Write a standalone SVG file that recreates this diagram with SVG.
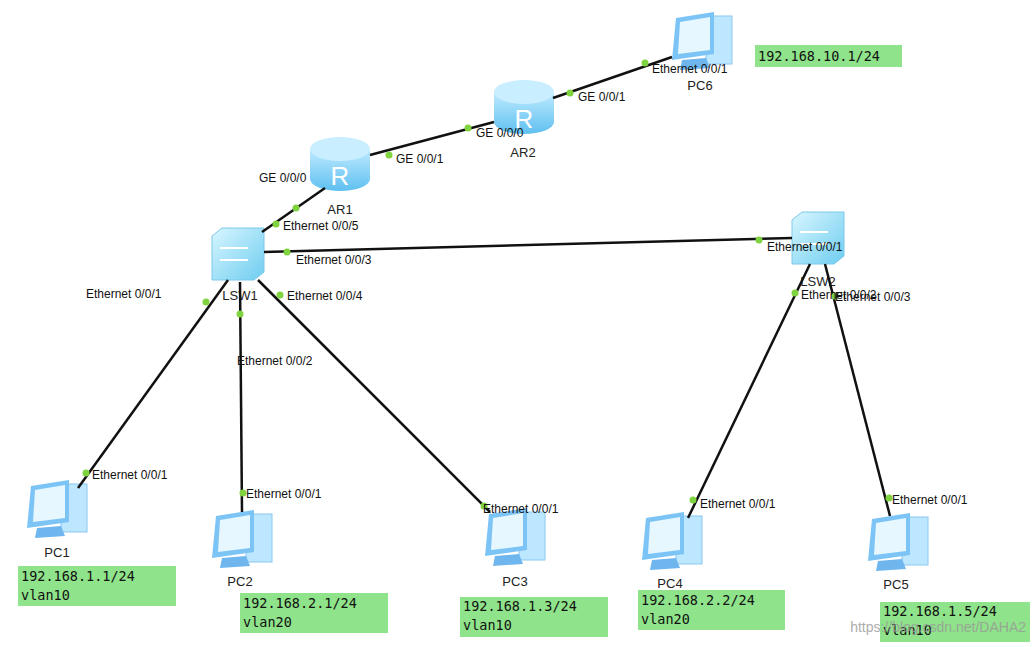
<svg xmlns="http://www.w3.org/2000/svg" width="1034" height="647" viewBox="0 0 1034 647">
<defs>
<style>
.l{stroke:#111;stroke-width:2.5;fill:none}
.d{fill:#7ed33f}
.t{font-family:"Liberation Sans",Arial,sans-serif;font-size:12px;fill:#111}
.n{font-family:"Liberation Sans",Arial,sans-serif;font-size:13px;fill:#222;text-anchor:middle}
.box{fill:#8fe38a}
.m{font-family:"DejaVu Sans Mono","Liberation Mono",monospace;font-size:13.5px;fill:#111}
</style>
<linearGradient id="rg" x1="0" y1="0" x2="0" y2="1"><stop offset="0" stop-color="#bfeaff"/><stop offset="1" stop-color="#5fc0f0"/></linearGradient>
<linearGradient id="sg" x1="0" y1="0" x2="1" y2="1"><stop offset="0" stop-color="#d8f6ff"/><stop offset="1" stop-color="#6fcdf0"/></linearGradient>
<g id="pc">
<rect x="36" y="4" width="26" height="48" fill="#bde6ff" stroke="#8cc8f0"/>
<path d="M6 6 L44 0 L44 42 L2 48 Z" fill="#7cc4f5"/>
<path d="M10 10 L40 5 L40 38 L8 42 Z" fill="#e6f7ff"/>
<path d="M12 48 L36 46 L40 56 L10 58 Z" fill="#6fb6ee"/>
</g>
<g id="rt">
<path d="M0 12 L0 42 A30 12 0 0 0 60 42 L60 12 Z" fill="url(#rg)"/>
<ellipse cx="30" cy="12" rx="30" ry="12" fill="#c8eeff"/>
<text x="30" y="48" font-family="Liberation Sans,sans-serif" font-size="26" fill="#fff" text-anchor="middle">R</text>
</g>
<g id="sw">
<path d="M0 8 L10 0 L52 0 L52 44 L42 52 L0 52 Z" fill="url(#sg)" stroke="#7cc8ea"/>
<path d="M8 20 L36 20 M8 32 L36 32" stroke="#fff" stroke-width="2"/>
</g>
</defs>
<rect width="1034" height="647" fill="#fff"/>
<g id="AR1"><use href="#rt" x="310" y="137"/><text class="n" x="340" y="214">AR1</text></g>
<g id="AR2"><use href="#rt" x="494" y="80"/><text class="n" x="523" y="157">AR2</text></g>
<g id="LSW1"><use href="#sw" x="212" y="228"/><text class="n" x="240" y="300">LSW1</text></g>
<g id="LSW2"><use href="#sw" x="792" y="212"/><text class="n" x="818" y="286">LSW2</text></g>
<g id="PC6"><use href="#pc" x="670" y="12"/><text class="n" x="700" y="90">PC6</text>
<rect class="box" x="755" y="45" width="147" height="22"/><text class="m" x="758" y="61">192.168.10.1/24</text></g>
<g id="PC1"><use href="#pc" x="25" y="480"/><text class="n" x="57" y="557">PC1</text>
<rect class="box" x="18" y="566" width="158" height="40"/><text class="m" x="21" y="581">192.168.1.1/24</text><text class="m" x="21" y="600">vlan10</text></g>
<g id="PC2"><use href="#pc" x="210" y="510"/><text class="n" x="240" y="586">PC2</text>
<rect class="box" x="240" y="593" width="148" height="40"/><text class="m" x="243" y="608">192.168.2.1/24</text><text class="m" x="243" y="627">vlan20</text></g>
<g id="PC3"><use href="#pc" x="483" y="508"/><text class="n" x="515" y="586">PC3</text>
<rect class="box" x="460" y="597" width="148" height="40"/><text class="m" x="463" y="611">192.168.1.3/24</text><text class="m" x="463" y="630">vlan10</text></g>
<g id="PC4"><use href="#pc" x="640" y="512"/><text class="n" x="670" y="588">PC4</text>
<rect class="box" x="638" y="590" width="147" height="40"/><text class="m" x="641" y="605">192.168.2.2/24</text><text class="m" x="641" y="624">vlan20</text></g>
<g id="PC5"><use href="#pc" x="866" y="513"/><text class="n" x="896" y="589">PC5</text>
<rect class="box" x="880" y="602" width="150" height="40"/><text class="m" x="883" y="616">192.168.1.5/24</text><text class="m" x="883" y="635">vlan10</text></g>
<g id="connectors">
<line class="l" x1="370" y1="155" x2="494" y2="122"/>
<line class="l" x1="553" y1="98" x2="672" y2="57"/>
<line class="l" x1="325" y1="188" x2="262" y2="232"/>
<line class="l" x1="264" y1="252" x2="792" y2="238"/>
<line class="l" x1="228" y1="280" x2="78" y2="488"/>
<line class="l" x1="240" y1="282" x2="242" y2="512"/>
<line class="l" x1="258" y1="280" x2="490" y2="512"/>
<line class="l" x1="810" y1="264" x2="688" y2="518"/>
<line class="l" x1="825" y1="264" x2="890" y2="516"/>
<g class="d">
<circle cx="389" cy="155" r="3.5"/><circle cx="468" cy="128" r="3.5"/>
<circle cx="570" cy="93" r="3.5"/><circle cx="645" cy="63" r="3.5"/>
<circle cx="296" cy="208" r="3.5"/><circle cx="276" cy="224" r="3.5"/>
<circle cx="287" cy="252" r="3.5"/><circle cx="759" cy="240" r="3.5"/>
<circle cx="206" cy="302" r="3.5"/><circle cx="86" cy="473" r="3.5"/>
<circle cx="240" cy="314" r="3.5"/><circle cx="243" cy="493" r="3.5"/>
<circle cx="280" cy="295" r="3.5"/><circle cx="484" cy="506" r="3.5"/>
<circle cx="795" cy="293" r="3.5"/><circle cx="693" cy="500" r="3.5"/>
<circle cx="835" cy="296" r="3.5"/><circle cx="889" cy="498" r="3.5"/>
</g>
<g class="t">
<text x="396" y="163">GE 0/0/1</text><text x="476" y="137">GE 0/0/0</text>
<text x="578" y="101">GE 0/0/1</text><text x="652" y="73">Ethernet 0/0/1</text>
<text x="259" y="182">GE 0/0/0</text><text x="283" y="230">Ethernet 0/0/5</text>
<text x="296" y="264">Ethernet 0/0/3</text><text x="767" y="251">Ethernet 0/0/1</text>
<text x="86" y="298">Ethernet 0/0/1</text><text x="92" y="479">Ethernet 0/0/1</text>
<text x="237" y="365">Ethernet 0/0/2</text><text x="246" y="498">Ethernet 0/0/1</text>
<text x="287" y="300">Ethernet 0/0/4</text><text x="483" y="513">Ethernet 0/0/1</text>
<text x="801" y="299">Ethernet 0/0/2</text><text x="700" y="508">Ethernet 0/0/1</text>
<text x="835" y="301">Ethernet 0/0/3</text><text x="892" y="504">Ethernet 0/0/1</text>
</g>
</g>
<text x="1026" y="632" text-anchor="end" font-family="Liberation Sans,sans-serif" font-size="14" fill="#999" opacity="0.8">https://blog.csdn.net/DAHA2</text>
</svg>
